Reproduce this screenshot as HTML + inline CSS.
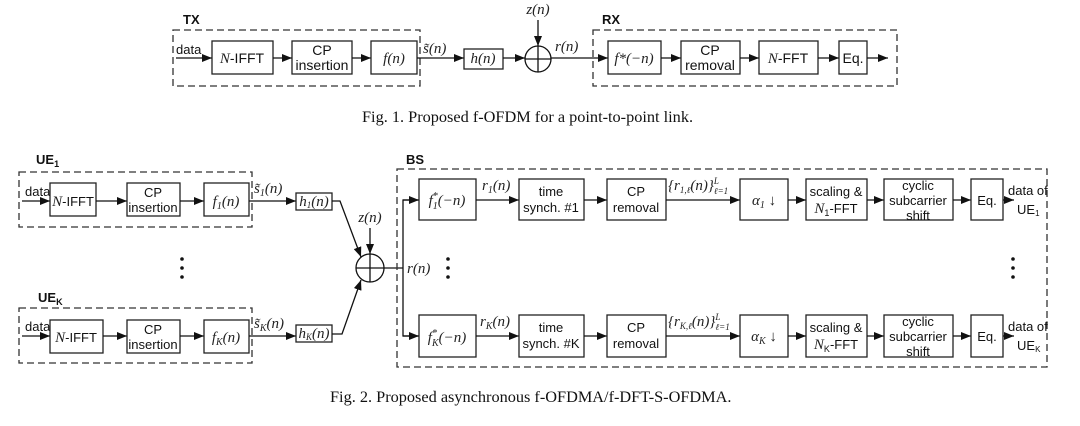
<!DOCTYPE html>
<html><head><meta charset="utf-8"><style>
html,body{margin:0;padding:0;background:#fff;}
svg{display:block;}
.b{fill:#fff;stroke:#222;stroke-width:1.3;}
.d{fill:none;stroke:#333;stroke-width:1.3;stroke-dasharray:7,4;}
.l{fill:none;stroke:#111;stroke-width:1.3;}
.s{font-family:"Liberation Sans",sans-serif;font-size:14px;fill:#111;}
.t{font-family:"Liberation Sans",sans-serif;font-size:13px;fill:#111;}
.h{font-family:"Liberation Sans",sans-serif;font-size:13px;font-weight:bold;fill:#111;}
.m{font-family:"Liberation Serif",serif;font-style:italic;font-size:15px;fill:#222;}
.c{font-family:"Liberation Serif",serif;font-size:16.3px;fill:#111;}
</style></head><body>
<svg width="1080" height="426" viewBox="0 0 1080 426" xmlns="http://www.w3.org/2000/svg">
<defs><marker id="a" markerWidth="10" markerHeight="8" refX="10" refY="4" orient="auto" markerUnits="userSpaceOnUse"><path d="M0,0L10,4L0,8z" fill="#111"/></marker></defs>

<!-- Fig 1 -->
<text x="183" y="24" class="h">TX</text>
<rect x="173" y="30" width="247" height="56" class="d"/>
<text x="176" y="54" class="t">data</text>
<line x1="176" y1="58" x2="212" y2="58" class="l" marker-end="url(#a)"/>
<rect x="212" y="41" width="61" height="33" class="b"/>
<text x="242" y="63" class="s" text-anchor="middle"><tspan class="m">N</tspan>-IFFT</text>
<line x1="273" y1="58" x2="292" y2="58" class="l" marker-end="url(#a)"/>
<rect x="292" y="41" width="60" height="33" class="b"/>
<text x="322" y="55" class="s" text-anchor="middle">CP</text>
<text x="322" y="70" class="s" text-anchor="middle">insertion</text>
<line x1="352" y1="58" x2="371" y2="58" class="l" marker-end="url(#a)"/>
<rect x="371" y="41" width="46" height="33" class="b"/>
<text x="394" y="63" class="m" text-anchor="middle">f(n)</text>
<line x1="417" y1="58" x2="464" y2="58" class="l" marker-end="url(#a)"/>
<text x="423" y="53" class="m">s̃(n)</text>
<rect x="464" y="49" width="39" height="20" class="b"/>
<text x="483" y="63" class="m" text-anchor="middle">h(n)</text>
<line x1="503" y1="58" x2="525" y2="58" class="l" marker-end="url(#a)"/>
<circle cx="538" cy="59" r="13" class="l"/>
<line x1="525" y1="59" x2="551" y2="59" class="l"/>
<line x1="538" y1="46" x2="538" y2="72" class="l"/>
<text x="538" y="14" class="m" text-anchor="middle">z(n)</text>
<line x1="538" y1="20" x2="538" y2="46" class="l" marker-end="url(#a)"/>
<text x="555" y="51" class="m">r(n)</text>
<line x1="551" y1="58" x2="608" y2="58" class="l" marker-end="url(#a)"/>
<text x="602" y="24" class="h">RX</text>
<rect x="593" y="30" width="304" height="56" class="d"/>
<rect x="608" y="41" width="53" height="33" class="b"/>
<text x="634" y="63" class="m" text-anchor="middle">f*(−n)</text>
<line x1="661" y1="58" x2="681" y2="58" class="l" marker-end="url(#a)"/>
<rect x="681" y="41" width="59" height="33" class="b"/>
<text x="710" y="55" class="s" text-anchor="middle">CP</text>
<text x="710" y="70" class="s" text-anchor="middle">removal</text>
<line x1="740" y1="58" x2="759" y2="58" class="l" marker-end="url(#a)"/>
<rect x="759" y="41" width="59" height="33" class="b"/>
<text x="788" y="63" class="s" text-anchor="middle"><tspan class="m">N</tspan>-FFT</text>
<line x1="818" y1="58" x2="839" y2="58" class="l" marker-end="url(#a)"/>
<rect x="839" y="41" width="28" height="33" class="b"/>
<text x="853" y="63" class="s" text-anchor="middle">Eq.</text>
<line x1="867" y1="58" x2="888" y2="58" class="l" marker-end="url(#a)"/>
<text x="362" y="122" class="c">Fig. 1.  Proposed f-OFDM for a point-to-point link.</text>

<!-- Fig 2 left -->
<text x="36" y="164" class="h">UE<tspan font-size="9" dy="3">1</tspan></text>
<rect x="19" y="172" width="233" height="55" class="d"/>
<text x="25" y="196" class="t">data</text>
<line x1="22" y1="201" x2="50" y2="201" class="l" marker-end="url(#a)"/>
<rect x="50" y="183" width="46" height="33" class="b"/>
<text x="73" y="206" class="t" text-anchor="middle"><tspan class="m" font-size="14">N</tspan>-IFFT</text>
<line x1="96" y1="201" x2="127" y2="201" class="l" marker-end="url(#a)"/>
<rect x="127" y="183" width="53" height="33" class="b"/>
<text x="153" y="197" class="t" text-anchor="middle">CP</text>
<text x="153" y="212" class="t" text-anchor="middle">insertion</text>
<line x1="180" y1="201" x2="204" y2="201" class="l" marker-end="url(#a)"/>
<rect x="204" y="183" width="45" height="33" class="b"/>
<text x="226" y="206" class="m" text-anchor="middle">f<tspan font-size="10" dy="3">1</tspan><tspan dy="-3">(n)</tspan></text>
<line x1="249" y1="201" x2="296" y2="201" class="l" marker-end="url(#a)"/>
<text x="254" y="193" class="m">s̃<tspan font-size="10" dy="3">1</tspan><tspan dy="-3">(n)</tspan></text>
<rect x="296" y="193" width="36" height="17" class="b"/>
<text x="314" y="206" class="m" text-anchor="middle" font-size="13">h<tspan font-size="9" dy="2">1</tspan><tspan dy="-2">(n)</tspan></text>
<polyline points="332,201 340,201 361,257" class="l" marker-end="url(#a)"/>

<text x="38" y="302" class="h">UE<tspan font-size="9" dy="3">K</tspan></text>
<rect x="19" y="308" width="233" height="55" class="d"/>
<text x="25" y="331" class="t">data</text>
<line x1="22" y1="336" x2="50" y2="336" class="l" marker-end="url(#a)"/>
<rect x="50" y="320" width="53" height="33" class="b"/>
<text x="76" y="342" class="t" text-anchor="middle"><tspan class="m" font-size="14">N</tspan>-IFFT</text>
<line x1="103" y1="336" x2="127" y2="336" class="l" marker-end="url(#a)"/>
<rect x="127" y="320" width="53" height="33" class="b"/>
<text x="153" y="334" class="t" text-anchor="middle">CP</text>
<text x="153" y="349" class="t" text-anchor="middle">insertion</text>
<line x1="180" y1="336" x2="204" y2="336" class="l" marker-end="url(#a)"/>
<rect x="204" y="320" width="45" height="33" class="b"/>
<text x="226" y="342" class="m" text-anchor="middle">f<tspan font-size="10" dy="3">K</tspan><tspan dy="-3">(n)</tspan></text>
<line x1="249" y1="336" x2="296" y2="336" class="l" marker-end="url(#a)"/>
<text x="254" y="328" class="m">s̃<tspan font-size="10" dy="3">K</tspan><tspan dy="-3">(n)</tspan></text>
<rect x="296" y="325" width="36" height="17" class="b"/>
<text x="314" y="338" class="m" text-anchor="middle" font-size="13">h<tspan font-size="9" dy="2">K</tspan><tspan dy="-2">(n)</tspan></text>
<polyline points="332,334 342,334 361,280" class="l" marker-end="url(#a)"/>

<circle cx="182" cy="259" r="1.8" fill="#111"/><circle cx="182" cy="268" r="1.8" fill="#111"/><circle cx="182" cy="277" r="1.8" fill="#111"/>

<circle cx="370" cy="268" r="14" class="l"/>
<line x1="356" y1="268" x2="384" y2="268" class="l"/>
<line x1="370" y1="254" x2="370" y2="282" class="l"/>
<text x="370" y="222" class="m" text-anchor="middle">z(n)</text>
<line x1="370" y1="228" x2="370" y2="254" class="l" marker-end="url(#a)"/>
<line x1="384" y1="268" x2="403" y2="268" class="l"/>
<text x="407" y="273" class="m">r(n)</text>
<circle cx="448" cy="259" r="1.8" fill="#111"/><circle cx="448" cy="268" r="1.8" fill="#111"/><circle cx="448" cy="277" r="1.8" fill="#111"/>

<!-- BS -->
<text x="406" y="164" class="h">BS</text>
<rect x="397" y="169" width="650" height="198" class="d"/>
<polyline points="419,200 403,200 403,336 419,336" class="l"/>
<line x1="403" y1="200" x2="419" y2="200" class="l" marker-end="url(#a)"/>
<line x1="403" y1="336" x2="419" y2="336" class="l" marker-end="url(#a)"/>

<!-- row 1 -->
<rect x="419" y="179" width="57" height="41" class="b"/>
<text x="447" y="205" class="m" text-anchor="middle">f<tspan font-size="10" dy="-6">*</tspan><tspan font-size="10" dx="-5" dy="10">1</tspan><tspan dy="-4">(−n)</tspan></text>
<line x1="476" y1="200" x2="519" y2="200" class="l" marker-end="url(#a)"/>
<text x="482" y="190" class="m">r<tspan font-size="10" dy="3">1</tspan><tspan dy="-3">(n)</tspan></text>
<rect x="519" y="179" width="65" height="41" class="b"/>
<text x="551" y="196" class="t" text-anchor="middle">time</text>
<text x="551" y="212" class="t" text-anchor="middle">synch. #1</text>
<line x1="584" y1="200" x2="607" y2="200" class="l" marker-end="url(#a)"/>
<rect x="607" y="179" width="59" height="41" class="b"/>
<text x="636" y="196" class="t" text-anchor="middle">CP</text>
<text x="636" y="212" class="t" text-anchor="middle">removal</text>
<line x1="666" y1="200" x2="740" y2="200" class="l" marker-end="url(#a)"/>
<text x="668" y="190" class="m" font-size="14">{r<tspan font-size="9" dy="3">1,ℓ</tspan><tspan dy="-3">(n)}</tspan><tspan font-size="9" dy="-6">L</tspan><tspan font-size="9" dx="-5" dy="10">ℓ=1</tspan></text>
<rect x="740" y="179" width="48" height="41" class="b"/>
<text x="764" y="205" class="m" text-anchor="middle">α<tspan font-size="10" dy="3">1</tspan><tspan dy="-3" font-style="normal"> ↓</tspan></text>
<line x1="788" y1="200" x2="806" y2="200" class="l" marker-end="url(#a)"/>
<rect x="806" y="179" width="61" height="41" class="b"/>
<text x="836" y="196" class="t" text-anchor="middle">scaling &amp;</text>
<text x="836" y="213" class="t" text-anchor="middle"><tspan class="m" font-size="14">N</tspan><tspan font-size="9" dy="3">1</tspan><tspan dy="-3">-FFT</tspan></text>
<line x1="867" y1="200" x2="884" y2="200" class="l" marker-end="url(#a)"/>
<rect x="884" y="179" width="69" height="41" class="b"/>
<text x="918" y="190" class="t" text-anchor="middle">cyclic</text>
<text x="918" y="205" class="t" text-anchor="middle">subcarrier</text>
<text x="918" y="220" class="t" text-anchor="middle">shift</text>
<line x1="953" y1="200" x2="971" y2="200" class="l" marker-end="url(#a)"/>
<rect x="971" y="179" width="32" height="41" class="b"/>
<text x="987" y="205" class="t" text-anchor="middle">Eq.</text>
<line x1="1003" y1="200" x2="1014" y2="200" class="l" marker-end="url(#a)"/>
<text x="1008" y="195" class="t" font-size="12.5">data of</text>
<text x="1017" y="214" class="t" font-size="12">UE<tspan font-size="8" dy="2">1</tspan></text>

<circle cx="1013" cy="259" r="1.8" fill="#111"/><circle cx="1013" cy="268" r="1.8" fill="#111"/><circle cx="1013" cy="277" r="1.8" fill="#111"/>

<!-- row K -->
<rect x="419" y="315" width="57" height="42" class="b"/>
<text x="447" y="342" class="m" text-anchor="middle">f<tspan font-size="10" dy="-6">*</tspan><tspan font-size="10" dx="-5" dy="10">K</tspan><tspan dy="-4">(−n)</tspan></text>
<line x1="476" y1="336" x2="519" y2="336" class="l" marker-end="url(#a)"/>
<text x="480" y="326" class="m">r<tspan font-size="10" dy="3">K</tspan><tspan dy="-3">(n)</tspan></text>
<rect x="519" y="315" width="65" height="42" class="b"/>
<text x="551" y="332" class="t" text-anchor="middle">time</text>
<text x="551" y="348" class="t" text-anchor="middle">synch. #K</text>
<line x1="584" y1="336" x2="607" y2="336" class="l" marker-end="url(#a)"/>
<rect x="607" y="315" width="59" height="42" class="b"/>
<text x="636" y="332" class="t" text-anchor="middle">CP</text>
<text x="636" y="348" class="t" text-anchor="middle">removal</text>
<line x1="666" y1="336" x2="740" y2="336" class="l" marker-end="url(#a)"/>
<text x="668" y="326" class="m" font-size="14">{r<tspan font-size="9" dy="3">K,ℓ</tspan><tspan dy="-3">(n)}</tspan><tspan font-size="9" dy="-6">L</tspan><tspan font-size="9" dx="-5" dy="10">ℓ=1</tspan></text>
<rect x="740" y="315" width="48" height="42" class="b"/>
<text x="764" y="341" class="m" text-anchor="middle">α<tspan font-size="10" dy="3">K</tspan><tspan dy="-3" font-style="normal"> ↓</tspan></text>
<line x1="788" y1="336" x2="806" y2="336" class="l" marker-end="url(#a)"/>
<rect x="806" y="315" width="61" height="42" class="b"/>
<text x="836" y="332" class="t" text-anchor="middle">scaling &amp;</text>
<text x="836" y="349" class="t" text-anchor="middle"><tspan class="m" font-size="14">N</tspan><tspan font-size="9" dy="3">K</tspan><tspan dy="-3">-FFT</tspan></text>
<line x1="867" y1="336" x2="884" y2="336" class="l" marker-end="url(#a)"/>
<rect x="884" y="315" width="69" height="42" class="b"/>
<text x="918" y="326" class="t" text-anchor="middle">cyclic</text>
<text x="918" y="341" class="t" text-anchor="middle">subcarrier</text>
<text x="918" y="356" class="t" text-anchor="middle">shift</text>
<line x1="953" y1="336" x2="971" y2="336" class="l" marker-end="url(#a)"/>
<rect x="971" y="315" width="32" height="42" class="b"/>
<text x="987" y="341" class="t" text-anchor="middle">Eq.</text>
<line x1="1003" y1="336" x2="1014" y2="336" class="l" marker-end="url(#a)"/>
<text x="1008" y="331" class="t" font-size="12.5">data of</text>
<text x="1017" y="350" class="t" font-size="12">UE<tspan font-size="8" dy="2">K</tspan></text>

<text x="330" y="402" class="c">Fig. 2.  Proposed asynchronous f-OFDMA/f-DFT-S-OFDMA.</text>
</svg>
</body></html>
